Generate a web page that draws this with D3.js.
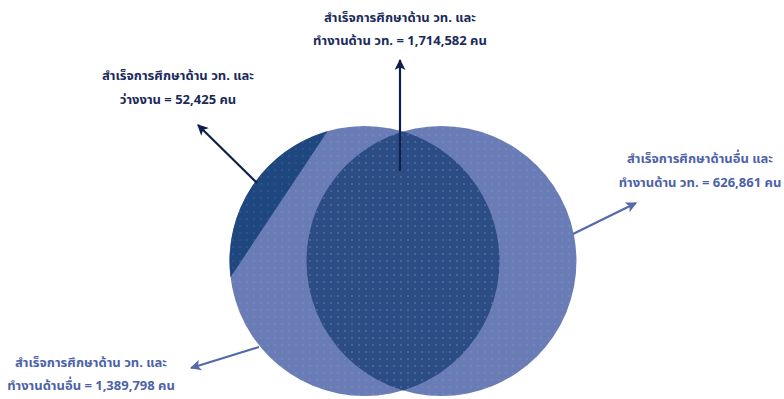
<!DOCTYPE html>
<html><head><meta charset="utf-8">
<script src="https://cdn.jsdelivr.net/npm/d3@7"></script>
<style>
html,body{margin:0;padding:0;background:#fff;}
svg{display:block;}
text{font-family:Tahoma,"Noto Sans Thai","Noto Sans","DejaVu Sans",sans-serif;font-weight:bold;}
</style></head>
<body>
<svg id="chart" width="784" height="399"></svg>
<script>
// ---- data ----
const categories = ["both_st", "st_unemployed", "other_st_work", "st_other_work"];
const labelLine1 = ["สำเร็จการศึกษาด้าน วท. และ", "สำเร็จการศึกษาด้าน วท. และ", "สำเร็จการศึกษาด้านอื่น และ", "สำเร็จการศึกษาด้าน วท. และ"];
const labelLine2 = ["ทำงานด้าน วท.", "ว่างงาน", "ทำงานด้าน วท.", "ทำงานด้านอื่น"];
const values = [1714582, 52425, 626861, 1389798];
const unit = "คน";

// ---- layout ----
const svg = d3.select("#chart");
const W = 784, H = 399;
const x = d3.scaleLinear().domain([-1, 1]).range([403 - 135, 403 + 135]);
const y = d3.scaleLinear().domain([-1, 1]).range([261 - 135, 261 + 135]);
const R = x(1) - x(0);
const sep = 0.285;               // half distance between centres (unit radii)
const cL = {x: x(-sep), y: y(0)}, cR = {x: x(sep), y: y(0)};

const colLight = "#6a7cb6", colLens = "#2b4c84", colSeg = "#1f477f";
const colDarkText = "#1a2a5c", colLightText = "#4c62a8";
const colDarkArrow = "#0f1f4c", colLightArrow = "#5569ad";

const defs = svg.append("defs");
const pat = defs.append("pattern").attr("id", "dots").attr("width", 7).attr("height", 7)
  .attr("patternUnits", "userSpaceOnUse");
pat.append("circle").attr("cx", 2).attr("cy", 2).attr("r", 0.7).attr("fill", "rgba(255,255,255,0.18)");
defs.append("clipPath").attr("id", "clipL").append("circle").attr("cx", cL.x).attr("cy", cL.y).attr("r", R);

// circles
[cL, cR].forEach(c => {
  svg.append("circle").attr("cx", c.x).attr("cy", c.y).attr("r", R).attr("fill", colLight);
});
// lens (intersection)
svg.append("g").attr("clip-path", "url(#clipL)")
  .append("circle").attr("cx", cR.x).attr("cy", cR.y).attr("r", R).attr("fill", colLens);
// dark segment of left circle (chord)
const a0 = -96.9 * Math.PI / 180, a1 = -15.9 * Math.PI / 180;
const p = a => [cL.x + R * Math.sin(a), cL.y - R * Math.cos(a)];
const seg = d3.path();
seg.moveTo(...p(a0));
seg.arc(cL.x, cL.y, R, a0 - Math.PI / 2, a1 - Math.PI / 2, false);
seg.closePath();
svg.append("path").attr("d", seg.toString()).attr("fill", colSeg);
// texture
svg.append("circle").attr("cx", cL.x).attr("cy", cL.y).attr("r", R).attr("fill", "url(#dots)");
svg.append("circle").attr("cx", cR.x).attr("cy", cR.y).attr("r", R).attr("fill", "url(#dots)");

// arrows
const arrowColors = [colDarkArrow, colDarkArrow, colLightArrow, colLightArrow];
const textColors = [colDarkText, colDarkText, colLightText, colLightText];
arrowColors.forEach((c, i) => {
  defs.append("marker").attr("id", "arr" + i).attr("viewBox", "0 0 10 10")
    .attr("refX", 9).attr("refY", 5).attr("markerWidth", 13).attr("markerHeight", 11)
    .attr("markerUnits", "userSpaceOnUse").attr("orient", "auto")
    .append("path").attr("d", "M0,0 L10,5 L0,10 L2.5,5 Z").attr("fill", c);
});
const arrowFrom = [[400, 171], [257, 183], [573, 234], [259, 347]];
const arrowTo = [[400, 60], [198, 125], [636, 203], [191, 368]];
categories.forEach((k, i) => {
  svg.append("line").attr("x1", arrowFrom[i][0]).attr("y1", arrowFrom[i][1])
    .attr("x2", arrowTo[i][0]).attr("y2", arrowTo[i][1])
    .attr("stroke", arrowColors[i]).attr("stroke-width", 2.2)
    .attr("marker-end", `url(#arr${i})`);
});

// labels
const labelPos = [[400, 22, 45], [178, 80, 104], [700, 163, 187], [91, 367, 390]];
const fmt = d3.format(",");
categories.forEach((k, i) => {
  const g = svg.append("g").attr("fill", textColors[i]).attr("font-size", 13).attr("text-anchor", "middle");
  g.append("text").attr("x", labelPos[i][0]).attr("y", labelPos[i][1]).text(labelLine1[i]);
  g.append("text").attr("x", labelPos[i][0]).attr("y", labelPos[i][2])
    .text(`${labelLine2[i]} = ${fmt(values[i])} ${unit}`);
});
</script>
</body></html>
